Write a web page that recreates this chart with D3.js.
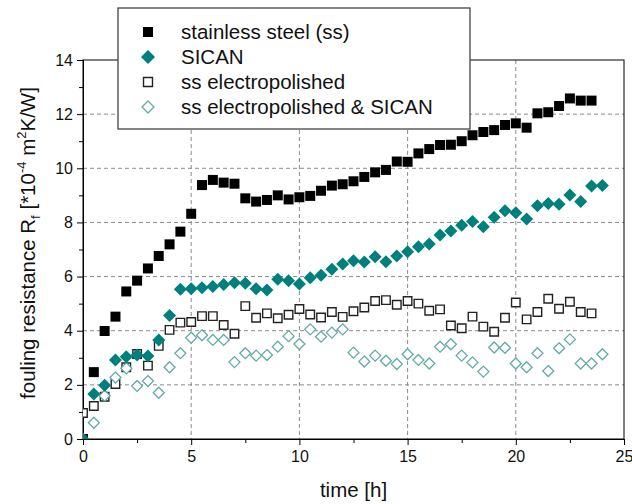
<!DOCTYPE html>
<html>
<head>
<meta charset="utf-8">
<script src="https://cdn.jsdelivr.net/npm/d3@7"></script>
<style>
  body { margin: 0; background: #fff; }
  text { font-family: "Liberation Sans", Arial, sans-serif; }
</style>
</head>
<body>
<svg id="chart" width="632" height="504"></svg>
<script>
// time axis of all series (h), half-hour steps
const timeSS = [0, 0.5, 1, 1.5, 2, 2.5, 3, 3.5, 4, 4.5, 5, 5.5, 6, 6.5, 7, 7.5, 8, 8.5, 9, 9.5, 10, 10.5, 11, 11.5, 12, 12.5, 13, 13.5, 14, 14.5, 15, 15.5, 16, 16.5, 17, 17.5, 18, 18.5, 19, 19.5, 20, 20.5, 21, 21.5, 22, 22.5, 23, 23.5];
const timeLong = timeSS.concat([24]);

// fouling resistance values [*1e-4 m2K/W]
const stainless = [0, 2.47, 3.99, 4.52, 5.45, 5.85, 6.3, 6.76, 7.19, 7.66, 8.32, 9.38, 9.57, 9.47, 9.43, 8.89, 8.77, 8.83, 9.0, 8.85, 8.93, 8.98, 9.17, 9.36, 9.41, 9.52, 9.68, 9.85, 9.94, 10.25, 10.24, 10.55, 10.71, 10.86, 10.87, 11.0, 11.22, 11.34, 11.41, 11.6, 11.66, 11.5, 12.03, 12.07, 12.3, 12.58, 12.5, 12.5];
const sican = [0, 1.66, 1.99, 2.92, 3.04, 3.1, 3.07, 3.66, 4.56, 5.53, 5.55, 5.59, 5.63, 5.71, 5.77, 5.75, 5.55, 5.5, 5.9, 5.85, 5.73, 5.96, 6.05, 6.27, 6.46, 6.58, 6.54, 6.73, 6.55, 6.76, 6.92, 7.1, 7.2, 7.54, 7.68, 7.9, 8.03, 7.84, 8.19, 8.43, 8.36, 8.13, 8.62, 8.7, 8.67, 9.01, 8.77, 9.35, 9.36];
const ssElectro = [0.96, 1.22, 1.56, 2.03, 2.65, 3.14, 2.71, 3.44, 4.03, 4.3, 4.32, 4.54, 4.54, 4.21, 3.89, 4.91, 4.48, 4.64, 4.46, 4.59, 4.8, 4.6, 4.49, 4.69, 4.51, 4.72, 4.86, 5.1, 5.13, 4.96, 5.1, 5.0, 4.74, 4.79, 4.19, 4.09, 4.52, 4.15, 3.96, 4.48, 5.04, 4.42, 4.69, 5.18, 4.81, 5.07, 4.69, 4.64];
const ssElectroSican = [null, 0.6, 1.6, 2.27, 2.61, 1.96, 2.14, 1.71, 2.65, 3.17, 3.74, 3.83, 3.66, 3.66, 2.84, 3.17, 3.08, 3.1, 3.41, 3.8, 3.51, 4.05, 3.78, 3.93, 4.05, 3.19, 2.86, 3.08, 2.89, 2.77, 3.13, 2.92, 2.79, 3.41, 3.5, 3.08, 2.83, 2.49, 3.38, 3.37, 2.79, 2.65, 3.17, 2.51, 3.35, 3.68, 2.79, 2.79, 3.13];

const xTicks = [0, 5, 10, 15, 20, 25];
const yTicks = [0, 2, 4, 6, 8, 10, 12, 14];
const legendLabels = ['stainless steel (ss)', 'SICAN', 'ss electropolished', 'ss electropolished & SICAN'];

const teal = '#00807c';
const lightTeal = '#62aaa8';

const svg = d3.select('#chart');
const margin = { left: 83, right: 8, top: 60, bottom: 65 };
const width = 632 - margin.left - margin.right;
const height = 504 - margin.top - margin.bottom;

const x = d3.scaleLinear().domain([0, 25]).range([0, width]);
const y = d3.scaleLinear().domain([0, 14]).range([height, 0]);

const g = svg.append('g').attr('transform', `translate(${margin.left},${margin.top})`);

svg.append('defs').append('clipPath').attr('id', 'plotClip')
  .append('rect').attr('width', width).attr('height', height);

// dashed grid
g.append('g').selectAll('line')
  .data(xTicks.slice(1, -1))
  .enter().append('line')
  .attr('x1', d => x(d)).attr('x2', d => x(d))
  .attr('y1', 0).attr('y2', height)
  .attr('stroke', '#8a8a8a').attr('stroke-dasharray', '4,3');
g.append('g').selectAll('line')
  .data(yTicks.slice(1, -1))
  .enter().append('line')
  .attr('y1', d => y(d)).attr('y2', d => y(d))
  .attr('x1', 0).attr('x2', width)
  .attr('stroke', '#8a8a8a').attr('stroke-dasharray', '4,3');

// axes: major + minor ticks
const xAxis = g.append('g').attr('transform', `translate(0,${height})`)
  .call(d3.axisBottom(x).tickValues(xTicks).tickSize(6).tickPadding(6).tickFormat(d3.format('d')));
g.append('g').attr('transform', `translate(0,${height})`)
  .call(d3.axisBottom(x).tickValues(d3.range(2.5, 25, 5)).tickSize(4).tickFormat(''))
  .select('.domain').remove();
const yAxis = g.append('g')
  .call(d3.axisLeft(y).tickValues(yTicks).tickSize(6).tickPadding(4).tickFormat(d3.format('d')));
g.append('g')
  .call(d3.axisLeft(y).tickValues(d3.range(1, 14, 2)).tickSize(4).tickFormat(''))
  .select('.domain').remove();

svg.selectAll('.tick text').attr('font-size', 16).attr('fill', '#111')
  .style('font-family', '"Liberation Sans", Arial, sans-serif');
svg.selectAll('.tick line').attr('stroke', '#000');

// frame
g.append('rect').attr('width', width).attr('height', height)
  .attr('fill', 'none').attr('stroke', '#000').attr('stroke-width', 1);

// markers
const squarePath = s => `M${-s / 2},${-s / 2}h${s}v${s}h${-s}Z`;
const diamondPath = s => `M0,${-s / 2}L${s / 2},0L0,${s / 2}L${-s / 2},0Z`;

const seriesList = [
  { t: timeSS, v: ssElectro, path: squarePath(8.5), fill: '#fff', stroke: '#222', sw: 1.4 },
  { t: timeLong, v: ssElectroSican, path: diamondPath(11), fill: '#fff', stroke: lightTeal, sw: 1.3 },
  { t: timeSS, v: stainless, path: squarePath(10), fill: '#000', stroke: 'none', sw: 0 },
  { t: timeLong, v: sican, path: diamondPath(13), fill: teal, stroke: 'none', sw: 0 }
];

const marks = g.append('g').attr('clip-path', 'url(#plotClip)');
seriesList.forEach(s => {
  const pts = s.t.map((t, i) => ({ t: t, v: s.v[i] })).filter(d => d.v !== null && d.v !== undefined);
  marks.append('g').selectAll('path')
    .data(pts)
    .enter().append('path')
    .attr('d', s.path)
    .attr('transform', d => `translate(${x(d.t)},${y(d.v)})`)
    .attr('fill', s.fill)
    .attr('stroke', s.stroke)
    .attr('stroke-width', s.sw);
});

// axis titles
svg.append('text')
  .attr('x', margin.left + x(12.5)).attr('y', 497)
  .attr('text-anchor', 'middle').attr('font-size', 20.5).attr('fill', '#111')
  .text('time [h]');

const yTitle = svg.append('text')
  .attr('transform', 'translate(35,243) rotate(-90)')
  .attr('text-anchor', 'middle').attr('font-size', 20.5).attr('fill', '#111');
yTitle.append('tspan').text('fouling resistance R');
yTitle.append('tspan').attr('font-size', 13).attr('dy', 5).text('f');
yTitle.append('tspan').attr('dy', -5).text(' [*10');
yTitle.append('tspan').attr('font-size', 13).attr('dy', -9).text('-4');
yTitle.append('tspan').attr('dy', 9).text(' m');
yTitle.append('tspan').attr('font-size', 13).attr('dy', -9).text('2');
yTitle.append('tspan').attr('dy', 9).text('K/W]');

// legend
const legend = svg.append('g');
legend.append('rect')
  .attr('x', 118).attr('y', 8).attr('width', 352).attr('height', 121)
  .attr('fill', '#fff').attr('stroke', '#444').attr('stroke-width', 1.3);

const legendSymbols = [
  { path: squarePath(10), fill: '#000', stroke: 'none', sw: 0 },
  { path: diamondPath(14), fill: teal, stroke: 'none', sw: 0 },
  { path: squarePath(9), fill: '#fff', stroke: '#222', sw: 1.4 },
  { path: diamondPath(12), fill: '#fff', stroke: lightTeal, sw: 1.3 }
];

const rows = legend.selectAll('g.row')
  .data(legendLabels)
  .enter().append('g').attr('class', 'row')
  .attr('transform', (d, i) => `translate(148,${32 + i * 25})`);
rows.append('path')
  .attr('d', (d, i) => legendSymbols[i].path)
  .attr('fill', (d, i) => legendSymbols[i].fill)
  .attr('stroke', (d, i) => legendSymbols[i].stroke)
  .attr('stroke-width', (d, i) => legendSymbols[i].sw);
rows.append('text')
  .attr('x', 33).attr('dy', '0.36em')
  .attr('font-size', 20.5).attr('fill', '#111')
  .text(d => d);
</script>
</body>
</html>
